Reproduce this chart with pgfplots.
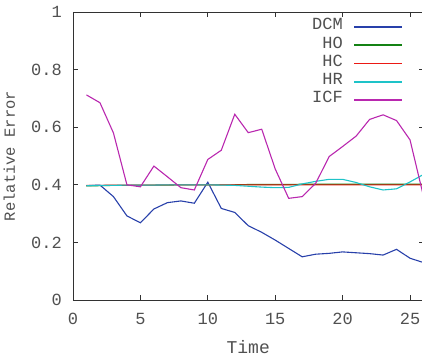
\documentclass[border=0pt]{standalone}
\usepackage{fontspec}
\setmonofont{Liberation Mono}
\newfontfamily\mono{Liberation Mono}
\usepackage{pgfplots}
\pgfplotsset{compat=1.18}
\definecolor{cDCM}{RGB}{40,64,170}
\definecolor{cHO}{RGB}{20,130,20}
\definecolor{cHC}{RGB}{235,25,20}
\definecolor{cHR}{RGB}{30,195,200}
\definecolor{cICF}{RGB}{185,40,175}
\definecolor{txt}{RGB}{80,80,80}
\definecolor{frame}{RGB}{50,50,50}
\begin{document}
\begin{tikzpicture}
\begin{axis}[
  at={(0pt,0pt)}, anchor=south west,
  scale only axis, width=350.5pt, height=288pt,
  xmin=0, xmax=26, ymin=0, ymax=1,
  xtick={0,5,10,15,20,25}, ytick={0,0.2,0.4,0.6,0.8,1},
  tick align=inside, major tick length=5pt,
  axis line style={frame, line width=0.8pt},
  every tick/.style={frame, line width=0.8pt},
  /pgf/number format/assume math mode=true,
  ticklabel style={font=\fontsize{17}{17}\mono, text=txt, inner sep=0pt},
  xticklabel style={anchor=north, yshift=-13pt},
  yticklabel style={anchor=east, xshift=-11pt},
  xlabel={Time}, ylabel={Relative Error},
  xlabel style={font=\fontsize{18}{18}\mono, text=txt, inner sep=0pt, anchor=north, at={(axis description cs:0.5,0)}, yshift=-40pt},
  ylabel style={font=\fontsize{15.5}{15.5}\mono, text=txt, inner sep=0pt, anchor=south, at={(axis description cs:-0.165,0.5)}},
  legend plot pos=right,
  legend cell align=right,
  legend image code/.code={\path[#1, draw=none, fill] (0pt,-0.85pt) rectangle (48pt,0.85pt);},
  legend style={draw=none, fill=none, anchor=north east, at={(rel axis cs:0.9387,0.980)},
    font=\fontsize{17}{17}\mono, text=txt, inner sep=0pt, column sep=11pt,
    nodes={inner sep=0pt, text height=12pt, text depth=6.2pt}},
  every axis plot/.append style={line width=1.1pt},
]
\addplot[cDCM] coordinates {(1,0.397)(2,0.399)(3,0.359)(4,0.292)(5,0.268)(6,0.316)(7,0.338)(8,0.344)(9,0.336)(10,0.409)(11,0.318)(12,0.304)(13,0.258)(14,0.235)(15,0.208)(16,0.179)(17,0.150)(18,0.159)(19,0.162)(20,0.167)(21,0.164)(22,0.161)(23,0.156)(24,0.176)(25,0.145)(26,0.130)};
\addlegendentry{DCM}
\addplot[cHO] coordinates {(1,0.396)(2,0.397)(3,0.398)(4,0.398)(5,0.399)(6,0.399)(7,0.399)(8,0.400)(9,0.400)(10,0.400)(11,0.400)(12,0.400)(13,0.401)(14,0.401)(15,0.401)(16,0.401)(17,0.402)(18,0.402)(19,0.402)(20,0.402)(21,0.402)(22,0.402)(23,0.402)(24,0.402)(25,0.402)(26,0.402)};
\addlegendentry{HO}
\addplot[cHC] coordinates {(1,0.398)(2,0.398)(3,0.399)(4,0.399)(5,0.399)(6,0.399)(7,0.400)(8,0.400)(9,0.400)(10,0.400)(11,0.400)(12,0.400)(13,0.400)(14,0.400)(15,0.400)(16,0.400)(17,0.400)(18,0.400)(19,0.400)(20,0.400)(21,0.400)(22,0.400)(23,0.400)(24,0.400)(25,0.400)(26,0.400)};
\addlegendentry{HC}
\addplot[cHR] coordinates {(1,0.397)(2,0.398)(3,0.398)(4,0.399)(5,0.399)(6,0.399)(7,0.400)(8,0.400)(9,0.400)(10,0.400)(11,0.399)(12,0.398)(13,0.395)(14,0.392)(15,0.390)(16,0.391)(17,0.403)(18,0.412)(19,0.419)(20,0.419)(21,0.408)(22,0.393)(23,0.382)(24,0.386)(25,0.410)(26,0.436)};
\addlegendentry{HR}
\addplot[cICF] coordinates {(1,0.712)(2,0.685)(3,0.580)(4,0.400)(5,0.393)(6,0.465)(7,0.428)(8,0.390)(9,0.382)(10,0.488)(11,0.520)(12,0.645)(13,0.581)(14,0.593)(15,0.455)(16,0.353)(17,0.359)(18,0.405)(19,0.498)(20,0.533)(21,0.569)(22,0.627)(23,0.643)(24,0.623)(25,0.556)(26,0.360)};
\addlegendentry{ICF}
\end{axis}
\pgfresetboundingbox
\path[use as bounding box] (-73pt,-56pt) rectangle (349pt,300pt);
\end{tikzpicture}
\end{document}
